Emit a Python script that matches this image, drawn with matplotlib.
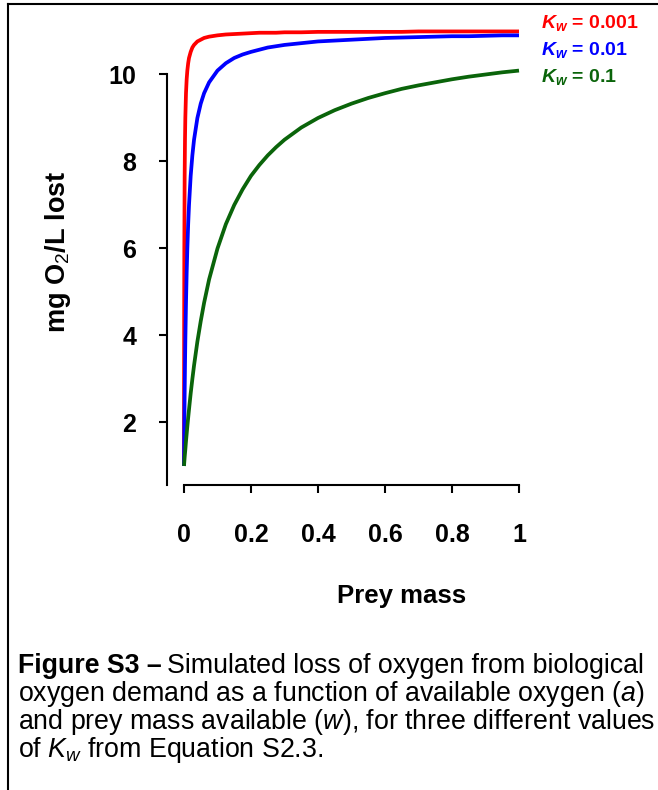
import matplotlib.pyplot as plt
from matplotlib.lines import Line2D

plt.rcParams['font.family'] = ['Liberation Sans', 'DejaVu Sans']
plt.rcParams['mathtext.fontset'] = 'custom'
plt.rcParams['mathtext.rm'] = 'Liberation Sans'
plt.rcParams['mathtext.it'] = 'Liberation Sans:italic'
plt.rcParams['mathtext.bf'] = 'Liberation Sans:bold'
plt.rcParams['mathtext.bfit'] = 'Liberation Sans:italic:bold'

# prey mass (w) and oxygen lost
prey_mass = [0, 0.0005, 0.001, 0.002, 0.003, 0.004, 0.006, 0.008, 0.01, 0.0125,
             0.015, 0.02, 0.025, 0.03, 0.04, 0.05, 0.06, 0.075, 0.1, 0.125,
             0.15, 0.175, 0.2, 0.225, 0.25, 0.275, 0.3, 0.35, 0.4, 0.45, 0.5,
             0.55, 0.6, 0.65, 0.7, 0.75, 0.8, 0.85, 0.9, 0.95, 1.0]
o2_kw_0001 = [1.00, 4.33, 6.00, 7.67, 8.50, 9.00, 9.57, 9.89, 10.09, 10.26,
              10.38, 10.52, 10.62, 10.68, 10.76, 10.80, 10.84, 10.87, 10.90, 10.92,
              10.93, 10.94, 10.95, 10.96, 10.96, 10.96, 10.97, 10.97, 10.98, 10.98, 10.98,
              10.98, 10.98, 10.98, 10.99, 10.99, 10.99, 10.99, 10.99, 10.99, 10.99]
o2_kw_001 = [1.00, 1.48, 1.91, 2.67, 3.31, 3.86, 4.75, 5.44, 6.00, 6.56,
             7.00, 7.67, 8.14, 8.50, 9.00, 9.33, 9.57, 9.82, 10.09, 10.26,
             10.38, 10.46, 10.52, 10.57, 10.62, 10.65, 10.68, 10.72, 10.76, 10.78, 10.80,
             10.82, 10.84, 10.85, 10.86, 10.87, 10.88, 10.88, 10.89, 10.90, 10.90]
o2_kw_01 = [1.00, 1.05, 1.10, 1.20, 1.29, 1.38, 1.57, 1.74, 1.91, 2.11,
            2.30, 2.67, 3.00, 3.31, 3.86, 4.33, 4.75, 5.29, 6.00, 6.56,
            7.00, 7.36, 7.67, 7.92, 8.14, 8.33, 8.50, 8.78, 9.00, 9.18, 9.33,
            9.46, 9.57, 9.67, 9.75, 9.82, 9.89, 9.95, 10.00, 10.05, 10.09]

labels = ['0.001', '0.01', '0.1']
colors = ['#ff0000', '#0000ff', '#0a640a']
xticks = [0, 0.2, 0.4, 0.6, 0.8, 1]
xticklabels = ['0', '0.2', '0.4', '0.6', '0.8', '1']
yticks = [2, 4, 6, 8, 10]

fig = plt.figure(figsize=(6.58, 7.90), dpi=100)
ax = fig.add_axes([167/658, 305/790, 358.7/658, 462.7/790])

for ys, c in zip([o2_kw_0001, o2_kw_001, o2_kw_01], colors):
    ax.plot(prey_mass, ys, color=c, lw=2.7, solid_capstyle='butt')

ax.set_xlim(-0.0507, 1.02)
ax.set_ylim(0.563, 11.2)
for s in ['top', 'right']:
    ax.spines[s].set_visible(False)
ax.spines['left'].set_bounds(0.563, 10)
ax.spines['bottom'].set_bounds(0, 1)
ax.spines['left'].set_linewidth(1.5)
ax.spines['bottom'].set_linewidth(1.5)

ax.set_xticks(xticks)
ax.set_xticklabels(xticklabels, fontsize=18, fontweight='bold')
ax.set_yticks(yticks)
ax.set_yticklabels([str(v) for v in yticks], fontsize=18, fontweight='bold')
ax.tick_params(axis='x', length=6, width=1.5, pad=21)
ax.tick_params(axis='y', length=6, width=1.5, pad=16)

fig.text(402/658, 1 - 596/790, 'Prey mass', fontsize=18.5, fontweight='bold',
         ha='center', va='center')
fig.text(58/658, 1 - 252/790, r'mg O$_2$/L lost', fontsize=19.5, fontweight='bold',
         rotation=90, ha='center', va='center')

for i, (lab, c) in enumerate(zip(labels, colors)):
    fig.text(541/658, 1 - (28 + 27*i)/790, r'$\mathbfit{K}_{\mathbfit{w}}$ = ' + lab,
             color=c, fontsize=14, fontweight='bold', ha='left', va='baseline')

# caption
cap_size = 19.3
t = fig.text(18/658, 1 - 673/790, 'Figure S3 \u2013', fontsize=cap_size,
             fontweight='bold', ha='left', va='baseline')
fig.canvas.draw()
bb = t.get_window_extent()
fig.text(bb.x1/658 + 5/658, 1 - 673/790, 'Simulated loss of oxygen from biological',
         fontsize=cap_size, ha='left', va='baseline')
cap_lines = [r'oxygen demand as a function of available oxygen ($a$)',
             r'and prey mass available ($w$), for three different values',
             r'of $K_w$ from Equation S2.3.']
for i, line in enumerate(cap_lines):
    fig.text(18/658, 1 - (701 + 28*i)/790, line, fontsize=cap_size,
             ha='left', va='baseline')

# border
fig.add_artist(Line2D([8/658, 1], [1 - 4/790, 1 - 4/790], color='black', lw=1.5))
fig.add_artist(Line2D([8/658, 8/658], [0, 1 - 4/790], color='black', lw=1.5))

fig.savefig('out.png', dpi=100)
